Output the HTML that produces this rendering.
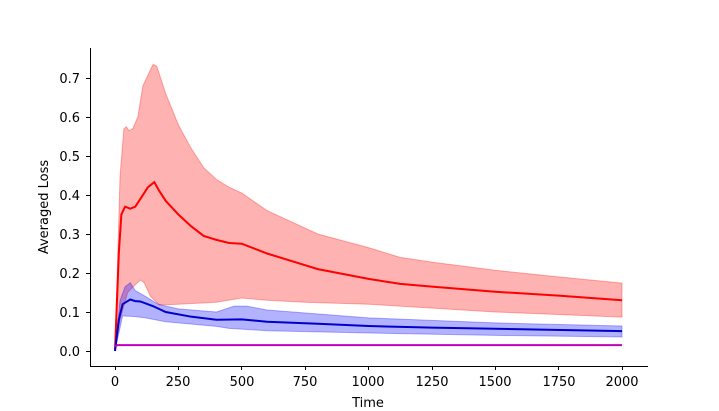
<!DOCTYPE html>
<html><head><style>
html,body{margin:0;padding:0;background:#fff;width:719px;height:411px;overflow:hidden}
text{font-family:"DejaVu Sans","Liberation Sans",sans-serif;font-size:13px;fill:#000}
</style></head><body>
<svg width="719" height="411" viewBox="0 0 719 411">
<g transform="translate(115,351) scale(0.2535,-390)">
<path d="M0,0 L20,0.45 L35,0.57 L45,0.575 L55,0.565 L70,0.57 L90,0.6 L110,0.68 L150,0.735 L165,0.73 L200,0.66 L250,0.58 L300,0.52 L350,0.47 L400,0.44 L450,0.42 L500,0.405 L600,0.36 L700,0.33 L800,0.3 L1000,0.265 L1125,0.24 L1250,0.228 L1500,0.207 L1750,0.19 L2000,0.174 L2000,0.087 L1500,0.1 L1000,0.12 L750,0.125 L600,0.13 L500,0.136 L400,0.125 L250,0.12 L175,0.118 L140,0.14 L115,0.175 L100,0.182 L80,0.17 L50,0.15 L20,0.08 Z" fill="#ff0000" fill-opacity="0.3" stroke="#ff0000" stroke-opacity="0.3" stroke-width="1" vector-effect="non-scaling-stroke"/>
<path d="M0,0 L20,0.13 L40,0.165 L60,0.175 L80,0.155 L120,0.14 L170,0.12 L250,0.108 L400,0.1 L470,0.115 L520,0.115 L600,0.105 L1000,0.085 L1500,0.072 L2000,0.064 L2000,0.036 L1500,0.04 L1000,0.046 L600,0.052 L450,0.058 L400,0.063 L200,0.075 L120,0.085 L80,0.088 L30,0.09 Z" fill="#0000ff" fill-opacity="0.3" stroke="#0000ff" stroke-opacity="0.3" stroke-width="1" vector-effect="non-scaling-stroke"/>
<path d="M0,0 L15,0.25 L25,0.35 L40,0.37 L60,0.365 L80,0.37 L100,0.39 L130,0.42 L155,0.433 L175,0.41 L200,0.385 L250,0.35 L300,0.32 L350,0.295 L400,0.285 L450,0.277 L500,0.275 L600,0.25 L700,0.23 L800,0.21 L1000,0.185 L1125,0.172 L1250,0.165 L1500,0.152 L1750,0.142 L2000,0.13" fill="none" stroke="#ff0000" stroke-width="2" vector-effect="non-scaling-stroke"/>
<path d="M0,0 L15,0.08 L30,0.12 L60,0.132 L80,0.128 L100,0.127 L150,0.115 L200,0.1 L300,0.088 L400,0.08 L500,0.081 L600,0.075 L800,0.07 L1000,0.064 L1250,0.06 L1500,0.057 L2000,0.051" fill="none" stroke="#0000cc" stroke-width="2" vector-effect="non-scaling-stroke"/>
<path d="M0,0.012 L10,0.015 L2000,0.015" fill="none" stroke="#bf00bf" stroke-width="2" vector-effect="non-scaling-stroke"/>
</g>
<g stroke="#000" stroke-width="1" fill="none">
<path d="M90.5,48 V366.5 H648"/>
<path d="M86,351.5h4.5M86,312.5h4.5M86,273.5h4.5M86,234.5h4.5M86,195.5h4.5M86,156.5h4.5M86,117.5h4.5M86,78.5h4.5"/>
<path d="M115.5,366v4M178.5,366v4M241.5,366v4M305.5,366v4M368.5,366v4M432.5,366v4M495.5,366v4M558.5,366v4M622.5,366v4"/>
</g>
<g text-anchor="end">
<text x="80" y="356">0.0</text><text x="80" y="317">0.1</text><text x="80" y="278">0.2</text><text x="80" y="239">0.3</text><text x="80" y="200">0.4</text><text x="80" y="161">0.5</text><text x="80" y="122">0.6</text><text x="80" y="83">0.7</text>
</g>
<g text-anchor="middle">
<text x="115" y="386">0</text><text x="178" y="386">250</text><text x="242" y="386">500</text><text x="305" y="386">750</text><text x="368" y="386">1000</text><text x="432" y="386">1250</text><text x="495" y="386">1500</text><text x="559" y="386">1750</text><text x="622" y="386">2000</text>
<text x="368" y="407">Time</text>
<text transform="translate(48,207) rotate(-90)">Averaged Loss</text>
</g>
</svg>
</body></html>
